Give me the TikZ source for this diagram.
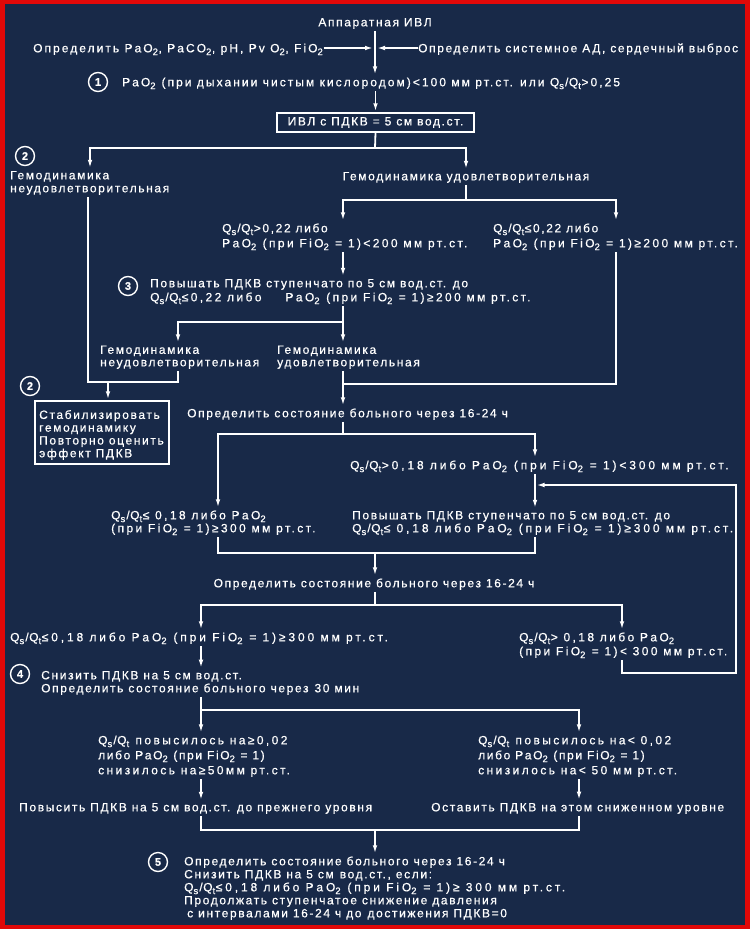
\documentclass[tikz,border=0pt]{standalone}
\usepackage{fontspec}
\setmainfont{Liberation Sans}[LetterSpace=13.5, FakeBold=0.6]
\newfontfamily\fm{Liberation Sans}[LetterSpace=17, FakeBold=0.6]
\newfontfamily\fw{Liberation Sans}[LetterSpace=20, FakeBold=0.6]
\newfontfamily\fx{Liberation Sans}[LetterSpace=24, FakeBold=0.6]
\usetikzlibrary{arrows.meta}
\definecolor{bgnavy}{RGB}{24,41,72}
\definecolor{bordred}{RGB}{225,8,8}
\newcommand\dn[1]{\raisebox{-2.8pt}{\fontsize{9.5}{9.5}\selectfont #1}\kern0.6pt\relax}
\newcommand\qq{Q\dn s\kern0.5pt\relax/\kern0.5pt\relax Q\dn t}
\begin{document}
\begin{tikzpicture}[x=1pt,y=-1pt,
  ln/.style={draw=white, line width=1.8pt, line join=miter},
  arr/.style={ln, -{Latex[length=9pt,width=4.5pt]}},
  txt/.style={text=white, inner xsep=0pt, inner ysep=2pt, anchor=base west, align=left, font=\fontsize{12}{13}\selectfont},
  sk/.style={font=\fontsize{12}{#1}\selectfont},
  fwide/.style={font=\fw\fontsize{12}{#1}\selectfont},
  fxwide/.style={font=\fx\fontsize{12}{#1}\selectfont},
  fmid/.style={font=\fm\fontsize{12}{#1}\selectfont},
  num/.style={circle, draw=white, line width=1.4pt, minimum size=19pt, inner sep=0pt, text=white, font=\fontsize{11}{11}\selectfont\bfseries},
  boxst/.style={draw=white, line width=1.5pt, text=white, inner sep=2pt, align=left, font=\fontsize{12}{13}\selectfont}
]
\useasboundingbox (0,0) rectangle (750,929);
\fill[bordred] (0,0) rectangle (750,929);
\fill[bgnavy] (5,4) rectangle (745,925);

% ---------- texts ----------
\node[txt, anchor=base] (top) at (375,26.3) {Аппаратная ИВЛ};
\node[txt, fmid=13] (inL) at (33,52.3) {Определить PaO\dn2, PaCO\dn2, pH, Pv O\dn2, FiO\dn2};
\node[txt] (inR) at (418,52.3) {Определить системное АД, сердечный выброс};
\node[num] (n1) at (98,82) {1};
\node[txt, fmid=13] (s1) at (122,86.3) {PaO\dn2 (при дыхании чистым кислородом)<100 мм рт.ст. или \qq>0,25};
\node[boxst, minimum width=197pt, minimum height=19pt] (b1) at (375.5,122.5) {ИВЛ с ПДКВ = 5 см вод.ст.};

\node[num] (n2a) at (25,156) {2};
\node[txt] (g1) at (10,192.3) {Гемодинамика\\неудовлетворительная};
\node[txt, anchor=base] (g2) at (466,180.3) {Гемодинамика удовлетворительная};

\node[txt, sk=15] (c1) at (222,247.3) {\qq>0,22 либо\\{\fw PaO\dn2 (при FiO\dn2 = 1)<200 мм рт.ст.}};
\node[txt, sk=15] (c2) at (493,247.3) {\qq≤0,22 либо\\{\fw PaO\dn2 (при FiO\dn2 = 1)≥200 мм рт.ст.}};

\node[num] (n3) at (128,286) {3};
\node[txt, sk=14] (p3) at (150,301.3) {Повышать ПДКВ ступенчато по 5 см вод.ст. до\\{\fw \qq≤0,22 либо\qquad PaO\dn2\enspace (при FiO\dn2 = 1)≥200 мм рт.ст.}};

\node[txt, sk=12.5] (g3) at (100,366.3) {Гемодинамика\\неудовлетворительная};
\node[txt, sk=12.5] (g4) at (277,366.3) {Гемодинамика\\удовлетворительная};

\node[num] (n2b) at (30,386) {2};
\node[boxst, minimum width=134pt, minimum height=63pt] (b2) at (102,432.5) {};
\node[txt, sk=12.8] (b2t) at (39,457.3) {Стабилизировать\\гемодинамику\\Повторно оценить\\эффект ПДКВ};

\node[txt] (d1) at (187,417.3) {Определить состояние больного через 16-24 ч};
\node[txt, fxwide=13] (e1) at (350,469.3) {\qq>0,18 либо PaO\dn2 (при FiO\dn2 = 1)<300 мм рт.ст.};
\node[txt, fwide=13] (e2) at (111,532.3) {\qq≤ 0,18 либо PaO\dn2\\(при FiO\dn2 = 1)≥300 мм рт.ст.};
\node[txt] (e3) at (352,532.3) {Повышать ПДКВ ступенчато по 5 см вод.ст. до\\{\fx \qq≤ 0,18 либо PaO\dn2 (при FiO\dn2 = 1)≥300 мм рт.ст.}};
\node[txt, anchor=base] (d2) at (374,587.3) {Определить состояние больного через 16-24 ч};

\node[txt, fxwide=13] (f1) at (10,641.3) {\qq≤0,18 либо PaO\dn2 (при FiO\dn2 = 1)≥300 мм рт.ст.};
\node[txt, fwide=14] (f2) at (519,655.3) {\qq > 0,18 либо PaO\dn2\\(при FiO\dn2 = 1)< 300 мм рт.ст.};

\node[num] (n4) at (20,674) {4};
\node[txt] (h1) at (41,692.3) {Снизить ПДКВ на 5 см вод.ст.\\Определить состояние больного через\enspace 30 мин};

\node[txt, fwide=15] (q1) at (98,774.3) {\qq{} повысилось на≥0,02\\{\rmfamily либо PaO\dn2 (при FiO\dn2 = 1)}\\снизилось на≥50мм рт.ст.};
\node[txt, fwide=15] (q2) at (478,774.3) {\qq{} повысилось на< 0,02\\{\rmfamily либо PaO\dn2 (при FiO\dn2 = 1)}\\снизилось на< 50 мм рт.ст.};

\node[txt] (m1) at (19,811.3) {Повысить ПДКВ на 5 см вод.ст. до прежнего уровня};
\node[txt] (m2) at (431,811.3) {Оставить ПДКВ на этом сниженном уровне};

\node[num] (n5) at (158,862) {5};
\node[txt] (r5) at (184,917.3) {Определить состояние больного через 16-24 ч\\Снизить ПДКВ на 5 см\enspace вод.ст., если:\\{\fx \qq≤0,18 либо PaO\dn2 (при FiO\dn2 = 1)≥ 300 мм рт.ст.}\\Продолжать ступенчатое снижение давления\\\hspace{3pt}с интервалами 16-24 ч до\enspace достижения ПДКВ=0};

% ---------- coordinates ----------
\coordinate (m0) at (375,48);
\coordinate (j1) at (375,148);  \coordinate (j1L) at (90,148);  \coordinate (j1R) at (466,148);
\coordinate (j2) at (466,200);  \coordinate (j2L) at (343,200); \coordinate (j2R) at (616,200);
\coordinate (j3) at (343,322);  \coordinate (j3L) at (178,322);
\coordinate (k1) at (88,382);   \coordinate (k2) at (178,382);  \coordinate (k3) at (108,382);
\coordinate (r1) at (616,384);  \coordinate (r2) at (343,384);
\coordinate (j4) at (343,434);  \coordinate (j4L) at (218,434); \coordinate (j4R) at (535,434);
\coordinate (j5) at (375,553);  \coordinate (j5L) at (218,553); \coordinate (j5R) at (535,553);
\coordinate (j6) at (375,605);  \coordinate (j6L) at (201,605); \coordinate (j6R) at (622,605);
\coordinate (fb1) at (622,673); \coordinate (fb2) at (736,673); \coordinate (fb3) at (736,485); \coordinate (fb4) at (535,485);
\coordinate (j7) at (201,710);  \coordinate (j7R) at (579,710);
\coordinate (j8) at (375,830);  \coordinate (j8L) at (201,830); \coordinate (j8R) at (579,830);

% ---------- connectors ----------
\draw[arr, shorten >=1pt] (inL.east |- m0) -- (m0);
\draw[arr, shorten >=1pt] (inR.west |- m0) -- (m0);
\draw[arr] (top.south) -- (top.south |- s1.north);
\draw[arr] (s1.south -| b1.north) -- (b1.north);

\draw[ln] (b1.south) -- (j1);
\draw[arr] (j1R) -- (j1L) -- (j1L |- g1.north);
\draw[arr] (j1L) -- (j1R) -- (j1R |- g2.north);

\draw[ln] (g2.south) -- (j2);
\draw[arr] (j2) -- (j2L) -- (j2L |- c1.north);
\draw[arr] (j2) -- (j2R) -- (j2R |- c2.north);
\draw[arr] (c1.south -| j2L) -- (j2L |- p3.north);

\draw[ln] (p3.south -| j3) -- (j3);
\draw[arr] (j3) -- (j3L) -- (j3L |- g3.north);
\draw[arr] (j3) -- (j3 |- g4.north);

\draw[ln] (g1.south -| k1) -- (k1) -- (k2) -- (k2 |- g3.south);
\draw[arr] (k3) -- (k3 |- b2.north);

\draw[ln] (c2.south -| r1) -- (r1) -- (r2);
\draw[arr] (g4.south -| r2) -- (r2 |- d1.north);

\draw[ln] (d1.south -| j4) -- (j4);
\draw[arr] (j4) -- (j4R) -- (j4R |- e1.north);
\draw[arr] (j4) -- (j4L) -- (j4L |- e2.north);
\draw[arr] (e1.south -| j4R) -- (j4R |- e3.north);

\draw[ln] (e2.south -| j5L) -- (j5L) -- (j5R) -- (e3.south -| j5R);
\draw[arr] (j5) -- (j5 |- d2.north);

\draw[ln] (d2.south -| j6) -- (j6);
\draw[arr] (j6) -- (j6L) -- (j6L |- f1.north);
\draw[arr] (j6) -- (j6R) -- (j6R |- f2.north);

\draw[arr, shorten >=0.5pt] (f2.south -| fb1) -- (fb1) -- (fb2) -- (fb3) -- (fb4);

\draw[arr] (f1.south -| j6L) -- (j6L |- h1.north);

\draw[ln] (h1.south -| j7) -- (j7);
\draw[arr] (j7) -- (j7 |- q1.north);
\draw[arr] (j7) -- (j7R) -- (j7R |- q2.north);
\draw[arr] (q1.south -| j7) -- (j7 |- m1.north);
\draw[arr] (q2.south -| j7R) -- (j7R |- m2.north);

\draw[ln] (m1.south -| j8L) -- (j8L) -- (j8R) -- (m2.south -| j8R);
\draw[arr] (j8) -- (j8 |- r5.north);
\end{tikzpicture}
\end{document}
